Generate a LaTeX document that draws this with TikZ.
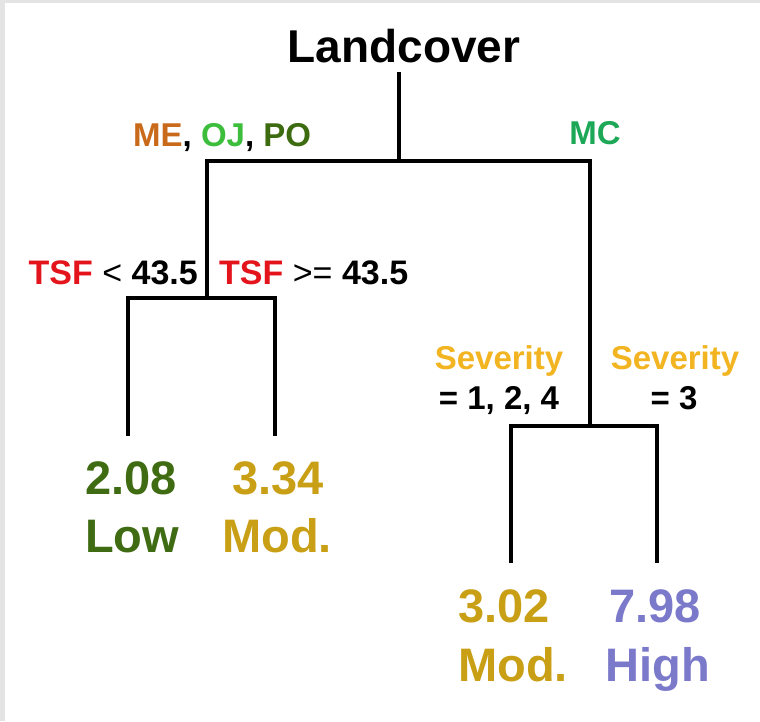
\documentclass[tikz,border=0pt]{standalone}
\usepackage{fontspec}
\setmainfont{Liberation Sans}
\definecolor{cME}{RGB}{200,106,26}
\definecolor{cOJ}{RGB}{60,190,60}
\definecolor{cPO}{RGB}{61,107,16}
\definecolor{cMC}{RGB}{29,168,87}
\definecolor{cTSF}{RGB}{227,20,27}
\definecolor{cSev}{RGB}{242,180,32}
\definecolor{cLow}{RGB}{63,107,18}
\definecolor{cMod}{RGB}{201,160,21}
\definecolor{cHigh}{RGB}{123,121,201}
\definecolor{cFrame}{RGB}{228,228,228}
\begin{document}
\begin{tikzpicture}[x=1pt,y=-1pt,
  edge/.style={line width=4pt,line join=miter,line cap=rect},
  lab/.style={inner sep=0pt,anchor=base,font=\fontsize{33}{38}\selectfont\bfseries},
  tsf/.style={lab,font=\fontsize{34}{38}\selectfont\bfseries},
  leaf/.style={inner sep=0pt,anchor=base,font=\fontsize{47}{52}\selectfont\bfseries},
  rootlab/.style={inner sep=0pt,anchor=base,font=\fontsize{46}{52}\selectfont\bfseries}]
\useasboundingbox (0,0) rectangle (760,721);
\fill[white] (0,0) rectangle (760,721);
\fill[cFrame] (0,0) rectangle (760,3);
\fill[cFrame] (0,0) rectangle (5,721);
% nodes
\node[rootlab] (root) at (404,62) {Landcover};
\node[lab,anchor=base west] (lc) at (133,146) {\textcolor{cME}{ME}, \textcolor{cOJ}{OJ}, \textcolor{cPO}{PO}};
\node[lab,text=cMC] (mc) at (595,144) {MC};
\node[tsf,anchor=base east] (tl) at (198,284) {\textcolor{cTSF}{TSF} \mdseries<\bfseries{} 43.5};
\node[tsf,anchor=base west] (tr) at (219,284) {\textcolor{cTSF}{TSF} \mdseries>=\bfseries{} 43.5};
\node[lab,text=cSev] (sl) at (499,369) {Severity};
\node[lab] (sl2) at (499,409) {= 1, 2, 4};
\node[lab,text=cSev] (sr) at (675,369) {Severity};
\node[lab] (sr2) at (674,409) {= 3};
\node[leaf,text=cLow] (v1) at (131,494) {2.08};
\node[leaf,text=cLow] (c1t) at (132,552) {Low};
\node[leaf,text=cMod] (v2) at (278,494) {3.34};
\node[leaf,text=cMod] (c2t) at (277,552) {Mod.};
\node[leaf,text=cMod] (v3) at (504,622) {3.02};
\node[leaf,text=cMod] (c3t) at (513,681) {Mod.};
\node[leaf,text=cHigh] (v4) at (655,622) {7.98};
\node[leaf,text=cHigh] (c4t) at (658,681) {High};
% tree coordinates
\coordinate (r0) at (399,72);
\coordinate (j0) at (399,161);
\coordinate (a1) at (207,161);
\coordinate (a2) at (590,161);
\coordinate (b0) at (207,298);
\coordinate (b1) at (128,298);
\coordinate (b2) at (275,298);
\coordinate (l1) at (128,436);
\coordinate (l2) at (275,436);
\coordinate (c0) at (590,426);
\coordinate (c1) at (511,426);
\coordinate (c2) at (657,426);
\coordinate (l3) at (511,563);
\coordinate (l4) at (657,563);
% connectors
\draw[edge,line cap=butt] (r0) -- (j0);
\draw[edge] (b0) -- (a1) -- (a2) -- (c0);
\draw[edge,line cap=butt] (l1) -- (b1) -- (b2) -- (l2);
\draw[edge,line cap=butt] (l3) -- (c1) -- (c2) -- (l4);
\end{tikzpicture}
\end{document}
